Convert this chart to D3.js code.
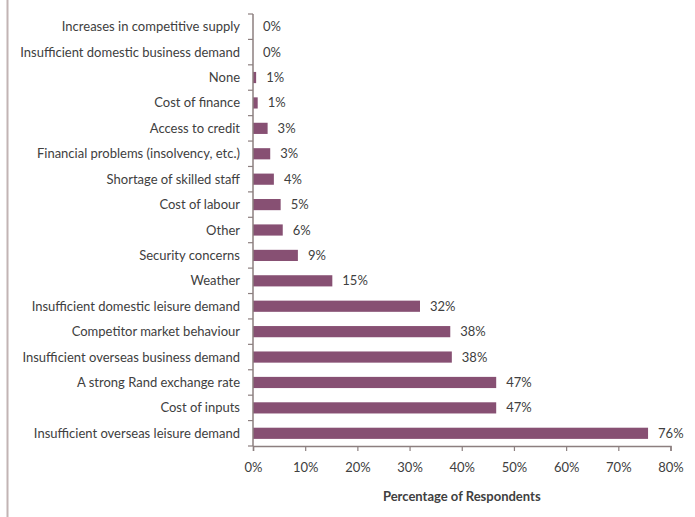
<!DOCTYPE html>
<html>
<head>
<meta charset="utf-8">
<script src="https://cdn.jsdelivr.net/npm/d3@7"></script>
<style>
  html, body { margin: 0; padding: 0; background: #fff; }
  svg { display: block; }
  text { font-family: Lato, "Open Sans", sans-serif; fill: #404040; }
</style>
</head>
<body>
<svg id="chart" width="695" height="517"></svg>
<script>
// Constraints reported by respondents, listed top to bottom
const categories = [
  "Increases in competitive supply",
  "Insufficient domestic business demand",
  "None",
  "Cost of finance",
  "Access to credit",
  "Financial problems (insolvency, etc.)",
  "Shortage of skilled staff",
  "Cost of labour",
  "Other",
  "Security concerns",
  "Weather",
  "Insufficient domestic leisure demand",
  "Competitor market behaviour",
  "Insufficient overseas business demand",
  "A strong Rand exchange rate",
  "Cost of inputs",
  "Insufficient overseas leisure demand"
];
// Share of respondents (fraction)
const shares = [
  0.000, 0.000, 0.006, 0.009, 0.028, 0.033, 0.040, 0.053, 0.057,
  0.086, 0.152, 0.320, 0.378, 0.381, 0.466, 0.466, 0.757
];
const xTicks = [0, 0.1, 0.2, 0.3, 0.4, 0.5, 0.6, 0.7, 0.8];
const xTitle = "Percentage of Respondents";

const rows = categories.map((c, i) => ({ category: c, value: shares[i] }));

const svg = d3.select("#chart");
const axisColor = "#8c7f7f";
const barColor = "#875073";

// frame line at the left edge
svg.append("line")
  .attr("x1", 7.5).attr("x2", 7.5)
  .attr("y1", 0).attr("y2", 517)
  .attr("stroke", "#c2b4b4").attr("stroke-width", 2);

const plotLeft = 253, plotRight = 670.5, plotTop = 14, plotBottom = 446;

const x = d3.scaleLinear().domain([0, 0.8]).range([plotLeft, plotRight]);
const y = d3.scaleBand().domain(categories).range([plotTop, plotBottom]).paddingInner(0.56).paddingOuter(0.28);

// bars
svg.append("g").selectAll("rect")
  .data(rows)
  .join("rect")
  .attr("x", x(0))
  .attr("y", d => y(d.category))
  .attr("width", d => x(d.value) - x(0))
  .attr("height", y.bandwidth())
  .attr("fill", barColor);

// value labels
const fmt = d3.format(".0%");
svg.append("g").selectAll("text")
  .data(rows)
  .join("text")
  .attr("x", d => x(d.value) + 10)
  .attr("y", d => y(d.category) + y.bandwidth() / 2)
  .attr("dy", "0.35em")
  .attr("font-size", 13)
  .text(d => fmt(d.value));

// category axis: tick marks between bands, labels centred on bars
const yAxis = svg.append("g");
yAxis.append("line")
  .attr("x1", plotLeft).attr("x2", plotLeft)
  .attr("y1", plotTop).attr("y2", plotBottom)
  .attr("stroke", axisColor).attr("stroke-width", 1.5);
const bandStep = (plotBottom - plotTop) / categories.length;
yAxis.selectAll("line.tick")
  .data(d3.range(categories.length + 1))
  .join("line")
  .attr("class", "tick")
  .attr("x1", plotLeft - 5).attr("x2", plotLeft)
  .attr("y1", i => plotTop + i * bandStep)
  .attr("y2", i => plotTop + i * bandStep)
  .attr("stroke", axisColor).attr("stroke-width", 1.2);
yAxis.selectAll("text")
  .data(categories)
  .join("text")
  .attr("x", plotLeft - 13)
  .attr("y", d => y(d) + y.bandwidth() / 2)
  .attr("dy", "0.35em")
  .attr("text-anchor", "end")
  .attr("font-size", 13)
  .text(d => d);

// percentage axis
const xAxis = svg.append("g")
  .attr("transform", `translate(0,${plotBottom})`)
  .call(d3.axisBottom(x).tickValues(xTicks).tickFormat(d3.format(".0%")).tickSize(5).tickPadding(12));
xAxis.select(".domain").attr("stroke", axisColor).attr("stroke-width", 1.5);
xAxis.selectAll(".tick line").attr("stroke", axisColor).attr("stroke-width", 1.2);
xAxis.selectAll(".tick text")
  .attr("font-size", 13)
  .attr("font-family", "Lato, 'Open Sans', sans-serif")
  .attr("fill", "#404040");

svg.append("text")
  .attr("x", (plotLeft + plotRight) / 2)
  .attr("y", 501)
  .attr("text-anchor", "middle")
  .attr("font-size", 13)
  .attr("font-weight", "bold")
  .text(xTitle);
</script>
</body>
</html>
